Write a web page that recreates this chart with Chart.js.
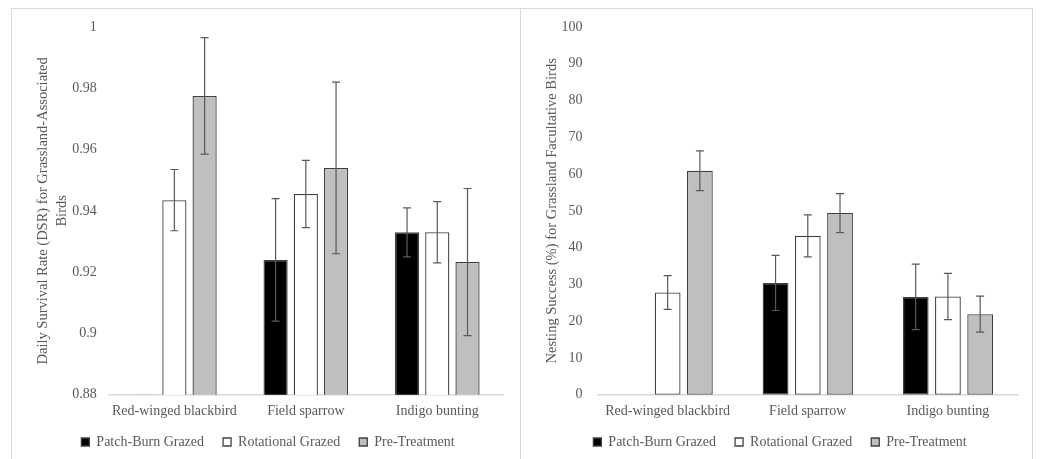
<!DOCTYPE html>
<html>
<head>
<meta charset="utf-8">
<script src="https://cdn.jsdelivr.net/npm/chart.js@4.4.1/dist/chart.umd.min.js"></script>
<style>
  body { margin: 0; background: #fff; width: 1040px; height: 459px; overflow: hidden; position: relative; }
  .panel { position: absolute; top: 8px; height: 480px; border-top: 1px solid #d9d9d9; border-right: 1px solid #d9d9d9; }
  #leftPanel { left: 11px; width: 508px; border-left: 1px solid #d9d9d9; }
  #rightPanel { left: 521px; width: 511px; }
  canvas { display: block; }
</style>
</head>
<body>
<div class="panel" id="leftPanel"><canvas id="dsrChart" width="508" height="472"></canvas></div>
<div class="panel" id="rightPanel"><canvas id="nestChart" width="511" height="472"></canvas></div>
<script>
// species along the x axis
const species = ['Red-winged blackbird', 'Field sparrow', 'Indigo bunting'];
const treatments = ['Patch-Burn Grazed', 'Rotational Grazed', 'Pre-Treatment'];

// daily survival rate (left panel)
const dsrPatchBurn = [0.88, 0.924, 0.933];
const dsrRotational = [0.9435, 0.9455, 0.933];
const dsrPreTreat = [0.9775, 0.954, 0.9233];
const dsrPatchBurnErr = [0, 0.02, 0.008];
const dsrRotationalErr = [0.01, 0.011, 0.01];
const dsrPreTreatErr = [0.019, 0.028, 0.024];
const dsrTicks = [0.88, 0.9, 0.92, 0.94, 0.96, 0.98, 1];

// nesting success % (right panel)
const nestPatchBurn = [0, 30.4, 26.6];
const nestRotational = [27.8, 43.2, 26.7];
const nestPreTreat = [60.9, 49.4, 21.9];
const nestPatchBurnErr = [0, 7.5, 8.9];
const nestRotationalErr = [4.6, 5.7, 6.3];
const nestPreTreatErr = [5.4, 5.3, 4.9];
const nestTicks = [0, 10, 20, 30, 40, 50, 60, 70, 80, 90, 100];

const textColor = '#595959';
const serif = 'Liberation Serif, Times New Roman, serif';
const fills = ['#000000', '#ffffff', '#bfbfbf'];

Chart.defaults.font.family = serif;
Chart.defaults.font.size = 14;
Chart.defaults.color = textColor;

// draws the whiskers from each dataset's errors array
const errorBars = {
  id: 'errorBars',
  afterDatasetsDraw(chart) {
    const { ctx } = chart;
    const yScale = chart.scales.y;
    ctx.save();
    ctx.strokeStyle = '#595959';
    ctx.lineWidth = 1.2;
    chart.data.datasets.forEach((ds, i) => {
      const meta = chart.getDatasetMeta(i);
      meta.data.forEach((bar, j) => {
        const err = ds.errors[j];
        if (!err) return;
        const top = yScale.getPixelForValue(ds.data[j] + err);
        const bottom = yScale.getPixelForValue(ds.data[j] - err);
        const cap = 4;
        ctx.beginPath();
        ctx.moveTo(bar.x, top);
        ctx.lineTo(bar.x, bottom);
        ctx.moveTo(bar.x - cap, top);
        ctx.lineTo(bar.x + cap, top);
        ctx.moveTo(bar.x - cap, bottom);
        ctx.lineTo(bar.x + cap, bottom);
        ctx.stroke();
      });
    });
    ctx.restore();
  }
};

// pull the legend up closer to the category labels
const legendNudge = {
  id: 'legendNudge',
  afterLayout(chart) {
    if (chart.legend) {
      chart.legend.top -= 11.5;
      chart.legend.bottom -= 11.5;
    }
  }
};

function makeDatasets(values, errs) {
  return treatments.map((name, i) => ({
    label: name,
    data: values[i],
    errors: errs[i],
    backgroundColor: fills[i],
    borderColor: '#404040',
    borderWidth: 1.3,
    borderSkipped: false,
    categoryPercentage: 0.69,
    barPercentage: 0.8
  }));
}

function makeOptions(tickList, title, pad, tickGap, fmt) {
  return {
    responsive: false,
    animation: false,
    layout: { padding: pad },
    plugins: {
      legend: {
        position: 'bottom',
        labels: { boxWidth: 8, boxHeight: 8, padding: 19, color: textColor }
      },
      tooltip: { enabled: false }
    },
    scales: {
      x: {
        grid: { display: false, drawTicks: false },
        border: { display: true, color: '#d9d9d9', width: 1.5 },
        ticks: { padding: 8, color: textColor, maxRotation: 0, minRotation: 0, autoSkip: false },
        afterFit: s => { s.paddingLeft = 0; s.paddingRight = 0; }
      },
      y: {
        min: tickList[0],
        max: tickList[tickList.length - 1],
        afterBuildTicks: s => { s.ticks = tickList.map(v => ({ value: v })); },
        // chart.js reserves the tick padding twice; keep only the gap next to the axis
        afterFit: s => { s.paddingTop = 0; s.paddingBottom = 0; s.width -= tickGap; },
        grid: { display: false, drawTicks: false },
        border: { display: false },
        ticks: { padding: tickGap, color: textColor, callback: fmt },
        title: {
          display: true,
          text: title,
          color: textColor,
          font: { size: 14.5, lineHeight: 1.35 },
          padding: { top: 0, bottom: 0 }
        }
      }
    }
  };
}

new Chart(document.getElementById('dsrChart'), {
  type: 'bar',
  data: {
    labels: species,
    datasets: makeDatasets([dsrPatchBurn, dsrRotational, dsrPreTreat],
      [dsrPatchBurnErr, dsrRotationalErr, dsrPreTreatErr])
  },
  options: makeOptions(dsrTicks,
    ['Daily Survival Rate (DSR) for Grassland-Associated', 'Birds'],
    { left: 21, right: 17, top: 18, bottom: 10.5 }, 12,
    v => String(+v.toFixed(2))),
  plugins: [errorBars, legendNudge]
});

new Chart(document.getElementById('nestChart'), {
  type: 'bar',
  data: {
    labels: species,
    datasets: makeDatasets([nestPatchBurn, nestRotational, nestPreTreat],
      [nestPatchBurnErr, nestRotationalErr, nestPreTreatErr])
  },
  options: makeOptions(nestTicks,
    'Nesting Success (%) for Grassland Facultative Birds',
    { left: 21, right: 14, top: 18, bottom: 10.5 }, 15,
    v => String(v)),
  plugins: [errorBars, legendNudge]
});
</script>
</body>
</html>
